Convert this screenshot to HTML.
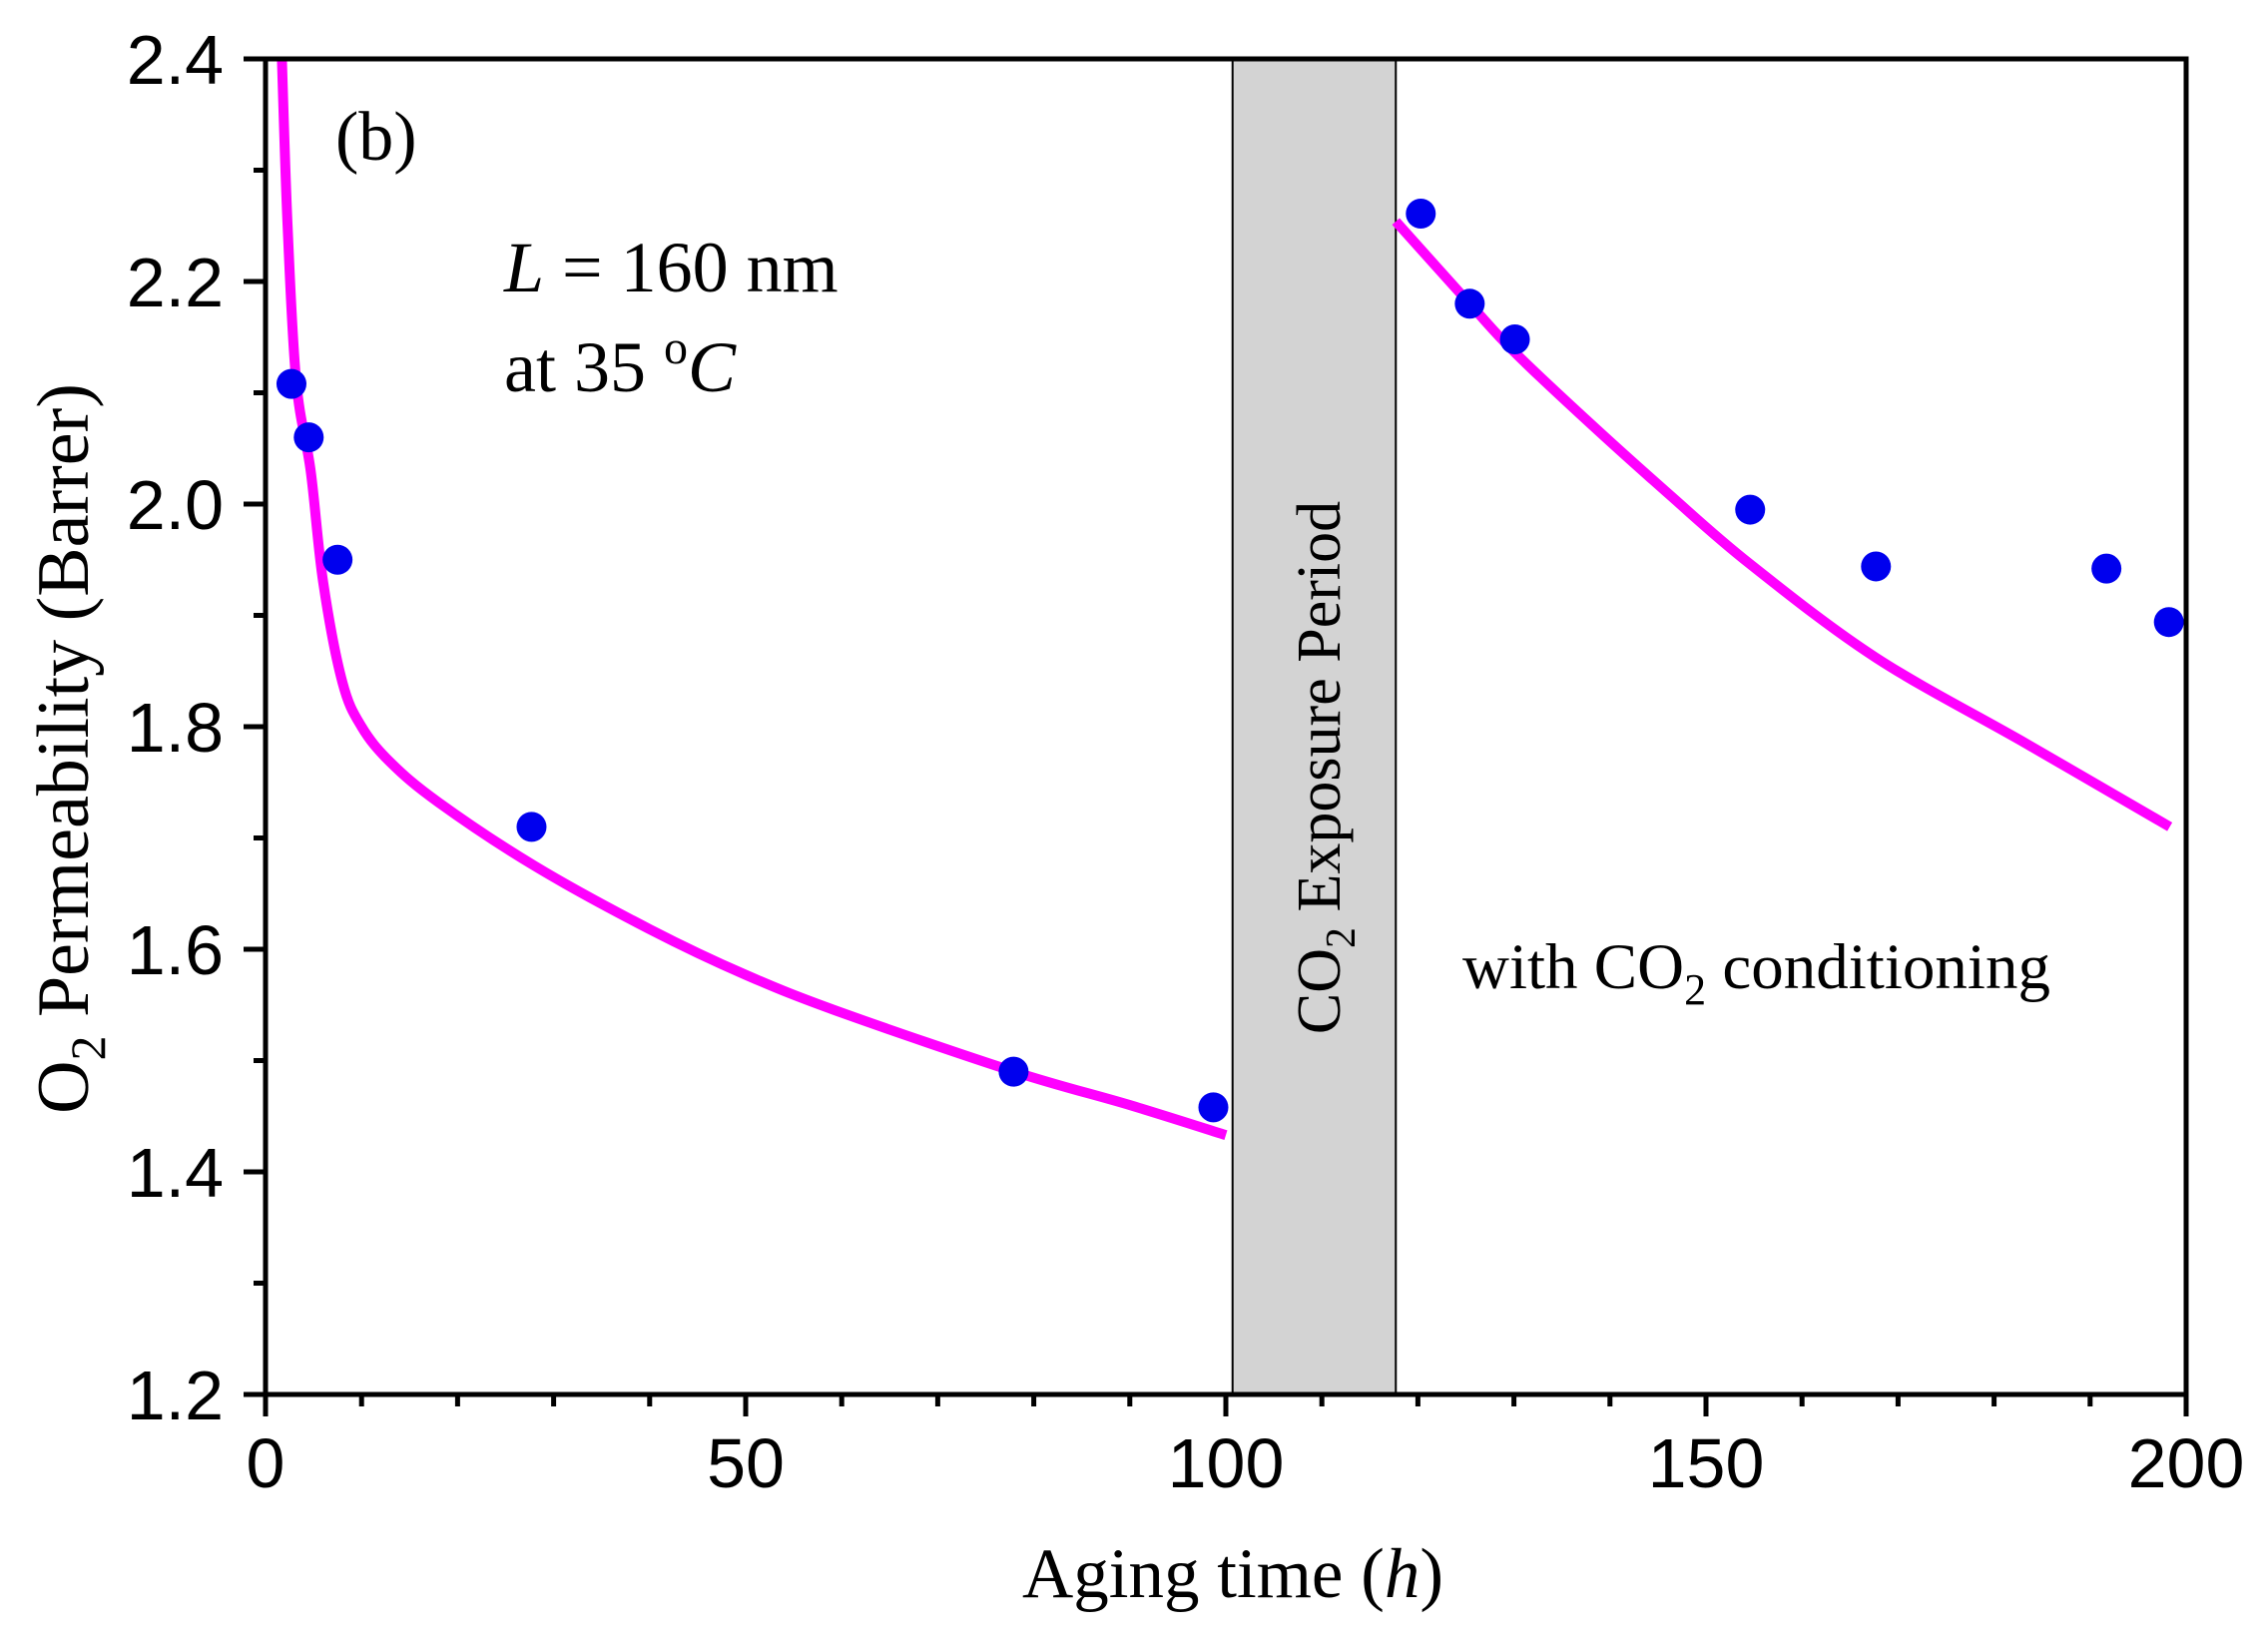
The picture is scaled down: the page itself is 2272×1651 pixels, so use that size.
<!DOCTYPE html>
<html><head><meta charset="utf-8"><style>html,body{margin:0;padding:0;background:#fff;}svg{display:block;}</style></head>
<body>
<svg id="chart" width="2272" height="1651" viewBox="0 0 2272 1651" xmlns="http://www.w3.org/2000/svg">
<g id="shade"></g>
<g id="curves"></g>
<g id="points"></g>
<g id="axes"></g>
<g id="labels" font-family="Liberation Serif, serif" fill="#000">
<text x="336" y="160" font-size="70">(b)</text>
<text x="505" y="292" font-size="72"><tspan font-style="italic">L</tspan> = 160 nm</text>
<text x="505" y="392" font-size="72">at 35 <tspan dy="-28" font-size="48">o</tspan><tspan dy="28" font-style="italic">C</tspan></text>
<text x="1465" y="990" font-size="65">with CO<tspan dy="16" font-size="44">2</tspan><tspan dy="-16"> conditioning</tspan></text>
<text transform="translate(1342,769) rotate(-90)" text-anchor="middle" font-size="62">CO<tspan dy="15" font-size="42">2</tspan><tspan dy="-15"> Exposure Period</tspan></text>
<text transform="translate(88,750) rotate(-90)" text-anchor="middle" font-size="74">O<tspan dy="17" font-size="50">2</tspan><tspan dy="-17"> Permeability (Barrer)</tspan></text>
<text x="1235" y="1600" text-anchor="middle" font-size="71">Aging time (<tspan font-style="italic">h</tspan>)</text>
</g>
</svg>
<script>
const xTicks=[0,50,100,150,200];
const yTicks=[1.2,1.4,1.6,1.8,2.0,2.2,2.4];
const yTickLabels=["1.2","1.4","1.6","1.8","2.0","2.2","2.4"];
const pointsX=[2.7,4.5,7.5,27.7,77.9,98.7,120.3,125.4,130.1,154.6,167.7,191.7,198.2];
const pointsY=[2.108,2.060,1.950,1.710,1.490,1.458,2.261,2.180,2.148,1.995,1.944,1.942,1.894];
const fit1X=[1.7,2.3,3.2,4.7,6,8,10,13,18,28,40,50,60,78,90,100];
const fit1Y=[2.4,2.25,2.11,2.03,1.93,1.84,1.80,1.768,1.732,1.675,1.618,1.577,1.543,1.49,1.46,1.433];
const fit2X=[117.7,125.4,130,138,146,154.6,167.7,183.3,198.3];
const fit2Y=[2.254,2.18,2.137,2.072,2.01,1.946,1.862,1.785,1.71];
const exposureStart=100.7, exposureEnd=117.7;

const L=266,R=2190,T=59,B=1397;
const sx=v=>L+(v-0)/(200-0)*(R-L);
const sy=v=>B-(v-1.2)/(2.4-1.2)*(B-T);
const NS="http://www.w3.org/2000/svg";
function mk(tag,attrs,parent){const e=document.createElementNS(NS,tag);for(const k in attrs)e.setAttribute(k,attrs[k]);document.getElementById(parent).appendChild(e);return e;}
function smooth(pts){
 let d='M'+pts[0][0].toFixed(1)+','+pts[0][1].toFixed(1);
 for(let i=0;i<pts.length-1;i++){
  const p0=pts[Math.max(0,i-1)],p1=pts[i],p2=pts[i+1],p3=pts[Math.min(pts.length-1,i+2)];
  const c1=[p1[0]+(p2[0]-p0[0])/6,p1[1]+(p2[1]-p0[1])/6];
  const c2=[p2[0]-(p3[0]-p1[0])/6,p2[1]-(p3[1]-p1[1])/6];
  d+=' C'+c1.map(v=>v.toFixed(1)).join(',')+' '+c2.map(v=>v.toFixed(1)).join(',')+' '+p2.map(v=>v.toFixed(1)).join(',');
 }
 return d;
}

let r=mk('rect',{x:sx(exposureStart),y:T,width:sx(exposureEnd)-sx(exposureStart),height:B-T,fill:'#d3d3d3',stroke:'#000','stroke-width':2},'shade');



[[fit1X,fit1Y,'fit-curve-before'],[fit2X,fit2Y,'fit-curve-after']].forEach(([xs,ys,n])=>{
 const pts=xs.map((x,i)=>[sx(x),sy(ys[i])]);
 const p=mk('path',{d:smooth(pts),fill:'none',stroke:'#ff00ff','stroke-width':10,'stroke-linejoin':'round'},'curves');
 
 
});

pointsX.forEach((x,i)=>{
 const c=mk('circle',{cx:sx(x),cy:sy(pointsY[i]),r:15,fill:'#0000ee'},'points');
 
 
});

const f=mk('rect',{x:L,y:T,width:R-L,height:B-T,fill:'none',stroke:'#000','stroke-width':5},'axes');



for(let v=0;v<=200;v+=10){
 const major=v%50===0;
 const t=mk('line',{x1:sx(v),x2:sx(v),y1:B,y2:B+(major?22:12),stroke:'#000','stroke-width':5},'axes');
 
 
}
xTicks.forEach(v=>{
 const t=mk('text',{x:sx(v),y:1490,'text-anchor':'middle','font-family':'Liberation Sans, sans-serif','font-size':70},'axes');
 t.textContent=String(v);
 
 
});
for(let k=0;k<=12;k++){
 const v=1.2+k*0.1;
 const major=k%2===0;
 const t=mk('line',{x1:L,x2:L-(major?22:12),y1:sy(v),y2:sy(v),stroke:'#000','stroke-width':5},'axes');
 
 
}
yTicks.forEach((v,i)=>{
 const t=mk('text',{x:224,y:sy(v)+25,'text-anchor':'end','font-family':'Liberation Sans, sans-serif','font-size':70},'axes');
 t.textContent=yTickLabels[i];
 
 
});
</script>
</body></html>
